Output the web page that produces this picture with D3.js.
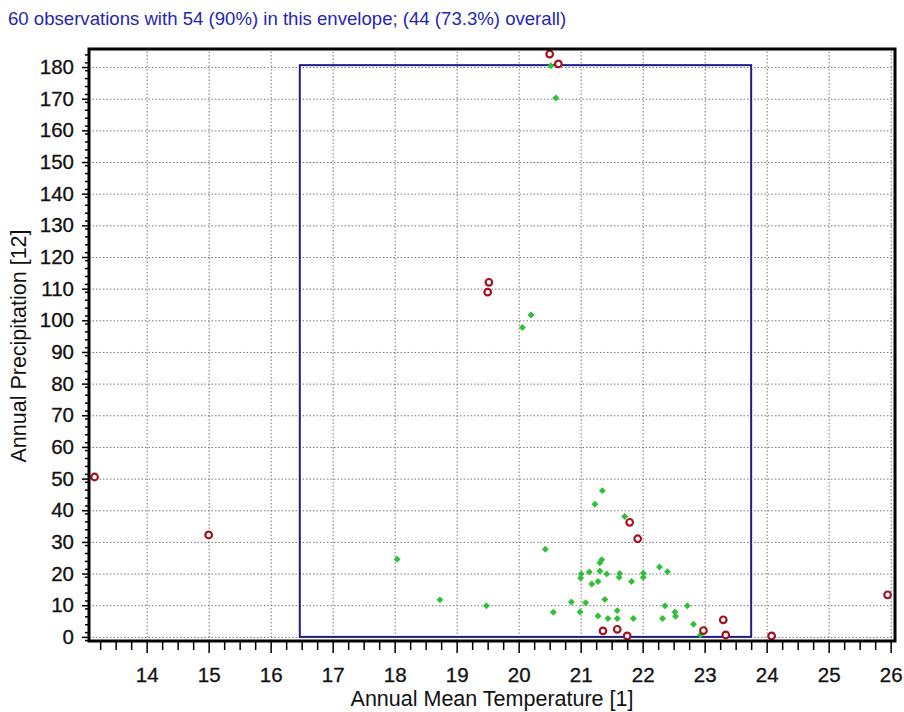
<!DOCTYPE html>
<html>
<head>
<meta charset="utf-8">
<script src="https://cdn.jsdelivr.net/npm/d3@7"></script>
<style>
    body { margin: 0; background: #fff; }
    svg { display: block; font-family: "Liberation Sans", Arial, sans-serif; }
    .grid line { stroke: #777; stroke-dasharray: 1.5 2; }
    .grid path { display: none; }
</style>
</head>
<body>
<div class="graph-container"></div>
<script>
// observations inside the envelope (green)
const insideTemp = [20.60, 20.20, 20.06, 18.04, 18.73, 19.48, 20.43, 20.56, 20.85, 21.01, 20.99, 21.08,
    21.35, 21.23, 21.71, 21.34, 21.31, 22.27, 21.14, 21.31, 21.42, 21.63, 21.62, 21.18, 21.28, 21.82,
    22.01, 22.01, 22.40, 21.39, 21.59, 21.28, 21.44, 21.59, 21.85, 22.36, 22.52, 22.53, 22.32, 22.72,
    22.82, 22.93, 20.52, 21.00];
const insidePrec = [170.2, 101.7, 97.7, 24.5, 11.7, 9.8, 27.7, 7.8, 11.0, 19.9, 7.9, 10.8,
    46.2, 41.9, 38.0, 24.4, 23.4, 22.1, 20.5, 20.8, 19.9, 20.0, 18.8, 16.7, 17.5, 17.5,
    20.1, 18.8, 20.6, 11.8, 8.3, 6.6, 5.8, 5.8, 5.8, 9.8, 7.9, 6.5, 5.8, 9.8,
    4.0, 0.6, 180.4, 18.6];
// observations outside the envelope (red)
const outsideTemp = [20.50, 20.64, 19.52, 19.50, 13.16, 15.00, 21.79, 21.92, 25.95, 23.30, 23.34, 24.08,
    22.98, 21.36, 21.59, 21.75];
const outsidePrec = [184.1, 181.0, 112.0, 108.9, 50.5, 32.2, 36.2, 31.0, 13.3, 5.4, 0.6, 0.3,
    2.0, 1.9, 2.4, 0.3];
// envelope bounds
const envelopeTemp = [16.47, 23.75];
const envelopePrec = [0, 180.6];
// axis ticks
const xTicks = d3.range(14, 27, 1);
const yTicks = d3.range(0, 190, 10);

const titleText = '60 observations with 54 (90%) in this envelope; (44 (73.3%) overall)';

// graph constants
const w = 904;
const h = 712;
const plotLeft = 89;
const plotRight = 895;
const plotTop = 49;
const plotBottom = 641;

const svg = d3.select('.graph-container')
    .append('svg')
    .attr('width', w)
    .attr('height', h);

const xScale = d3.scaleLinear().domain([13.07, 26.07]).range([plotLeft, plotRight]);
const yScale = d3.scaleLinear().domain([-1.3, 185.7]).range([plotBottom, plotTop]);

// dotted grid
svg.append('g')
    .attr('class', 'grid')
    .attr('transform', `translate(0, ${plotBottom})`)
    .call(d3.axisBottom(xScale).tickValues(xTicks).tickSize(-(plotBottom - plotTop)).tickFormat(''));
svg.append('g')
    .attr('class', 'grid')
    .attr('transform', `translate(${plotLeft}, 0)`)
    .call(d3.axisLeft(yScale).tickValues(yTicks).tickSize(-(plotRight - plotLeft)).tickFormat(''));

// envelope
svg.append('rect')
    .attr('x', xScale(envelopeTemp[0]))
    .attr('y', yScale(envelopePrec[1]))
    .attr('width', xScale(envelopeTemp[1]) - xScale(envelopeTemp[0]))
    .attr('height', yScale(envelopePrec[0]) - yScale(envelopePrec[1]))
    .attr('fill', 'none')
    .attr('stroke', '#1c1c8e')
    .attr('stroke-width', 2);

// green points (square turned 45 degrees)
svg.selectAll('.inside')
    .data(insideTemp)
    .enter()
    .append('path')
    .attr('class', 'inside')
    .attr('d', d3.symbol().type(d3.symbolSquare).size(24))
    .attr('transform', (d, i) => `translate(${xScale(d)}, ${yScale(insidePrec[i])}) rotate(45)`)
    .attr('fill', '#30c038');

// red points
svg.selectAll('.outside')
    .data(outsideTemp)
    .enter()
    .append('circle')
    .attr('class', 'outside')
    .attr('cx', d => xScale(d))
    .attr('cy', (d, i) => yScale(outsidePrec[i]))
    .attr('r', 3.3)
    .attr('fill', '#fff')
    .attr('stroke', '#a3121f')
    .attr('stroke-width', 2.2);

// frame
svg.append('rect')
    .attr('x', plotLeft)
    .attr('y', plotTop)
    .attr('width', plotRight - plotLeft)
    .attr('height', plotBottom - plotTop)
    .attr('fill', 'none')
    .attr('stroke', '#000')
    .attr('stroke-width', 3);

// axes
svg.append('g')
    .attr('class', 'axis')
    .attr('transform', `translate(0, ${plotBottom + 1})`)
    .call(d3.axisBottom(xScale).tickValues(xTicks).tickSize(11).tickPadding(14).tickFormat(d3.format('d')));
svg.append('g')
    .attr('class', 'axis')
    .attr('transform', `translate(0, ${plotBottom + 1})`)
    .call(d3.axisBottom(xScale).tickValues(d3.range(13.25, 26.07, 0.25).filter(v => v % 1 !== 0)).tickSize(8).tickFormat(''));
svg.append('g')
    .attr('class', 'axis')
    .attr('transform', `translate(${plotLeft - 1}, 0)`)
    .call(d3.axisLeft(yScale).tickValues(yTicks).tickSize(6).tickPadding(8).tickFormat(d3.format('d')));
svg.append('g')
    .attr('class', 'axis')
    .attr('transform', `translate(${plotLeft - 1}, 0)`)
    .call(d3.axisLeft(yScale).tickValues(d3.range(-1, 186, 2.5).filter(v => v % 10 !== 0)).tickSize(3).tickFormat(''));
svg.selectAll('.axis .domain').attr('display', 'none');
svg.selectAll('.axis .tick line').attr('stroke', '#000').attr('stroke-width', 1.5);
svg.selectAll('.axis .tick text')
    .attr('font-size', 20.5)
    .attr('font-family', '"Liberation Sans", Arial, sans-serif')
    .attr('fill', '#111')
    .attr('stroke', '#111')
    .attr('stroke-width', 0.3);

// labels
svg.append('text')
    .text(titleText)
    .attr('x', 8)
    .attr('y', 25)
    .attr('font-size', 18.6)
    .attr('fill', '#2626b4');
svg.append('text')
    .text('Annual Mean Temperature [1]')
    .attr('x', (plotLeft + plotRight) / 2)
    .attr('y', 706)
    .attr('text-anchor', 'middle')
    .attr('font-size', 21.5)
    .attr('fill', '#111');
svg.append('text')
    .text('Annual Precipitation [12]')
    .attr('transform', 'rotate(-90)')
    .attr('x', -346)
    .attr('y', 26)
    .attr('text-anchor', 'middle')
    .attr('font-size', 21.5)
    .attr('fill', '#111');
</script>
</body>
</html>
